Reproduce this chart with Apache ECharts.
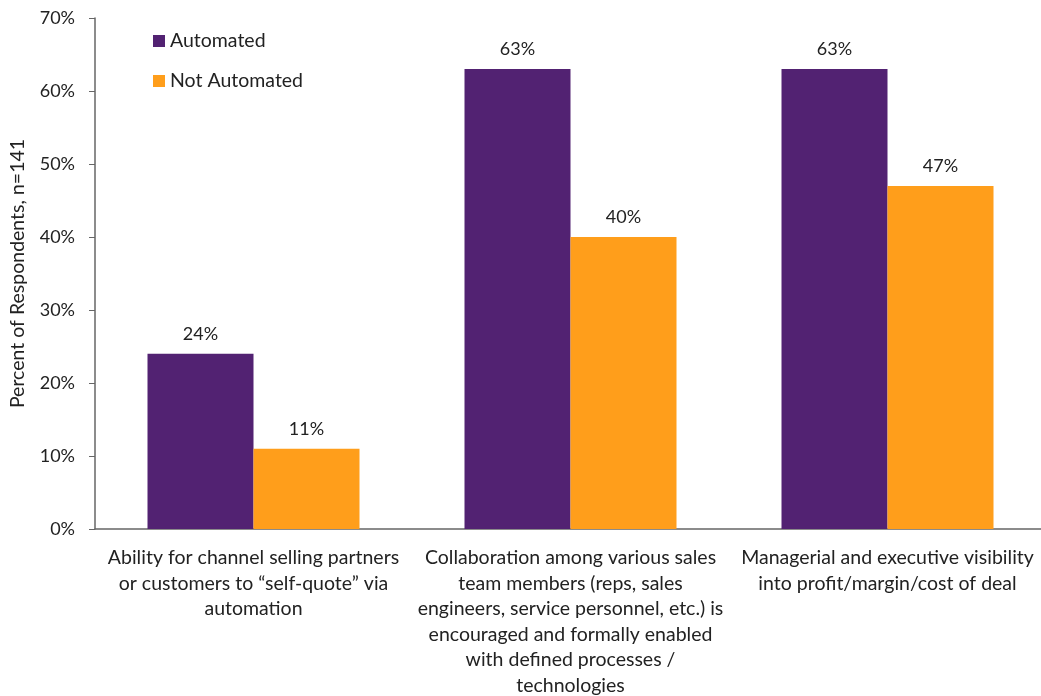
<!DOCTYPE html>
<html><head><meta charset="utf-8">
<script src="https://cdn.jsdelivr.net/npm/echarts@6/dist/echarts.min.js"></script>
<style>html,body{margin:0;padding:0;background:#fff}#c{width:1041px;height:696px}</style>
</head><body><div id="c"></div>
<script>
const categories = [
  "Ability for channel selling partners\nor customers to \u201cself-quote\u201d via\nautomation",
  "Collaboration among various sales\nteam members (reps, sales\nengineers, service personnel, etc.) is\nencouraged and formally enabled\nwith defined processes /\ntechnologies",
  "Managerial and executive visibility\ninto profit/margin/cost of deal"
];
const automated = [24, 63, 63];
const notAutomated = [11, 40, 47];
const yTicks = [0, 10, 20, 30, 40, 50, 60, 70];

const font = 'Lato, "Open Sans", sans-serif';
const chart = echarts.init(document.getElementById('c'));
chart.setOption({
  animation: false,
  textStyle: { fontFamily: font },
  legend: {
    orient: 'vertical', left: 148, top: 26, itemWidth: 12, itemHeight: 12, itemGap: 20,
    icon: 'rect',
    textStyle: { fontSize: 19.5, color: '#222', fontFamily: font },
    data: ['Automated', 'Not Automated']
  },
  grid: { left: 95, top: 18, width: 951, height: 511, containLabel: false, outerBoundsMode: 'none' },
  xAxis: {
    type: 'category', data: categories,
    axisLine: { lineStyle: { color: '#666', width: 1.5 } },
    axisTick: { show: false },
    axisLabel: { fontSize: 19.5, color: '#222', lineHeight: 25.5, margin: 16, interval: 0, fontFamily: font }
  },
  yAxis: {
    type: 'value', min: 0, max: 70, interval: 10,
    name: 'Percent of Respondents, n=141', nameLocation: 'middle', nameGap: 67,
    nameTextStyle: { fontSize: 19.5, color: '#222', fontFamily: font },
    splitLine: { show: false },
    axisLine: { show: true, lineStyle: { color: '#666', width: 1.5 } },
    axisTick: { show: true, length: 6, lineStyle: { color: '#666' } },
    axisLabel: { fontSize: 18, color: '#222', margin: 20, fontFamily: font,
      formatter: v => yTicks.includes(v) ? v + '%' : '' }
  },
  series: [
    { name: 'Automated', type: 'bar', data: automated, barWidth: 106, barGap: '0%',
      itemStyle: { color: '#522272' },
      label: { show: true, position: 'top', distance: 11, formatter: '{c}%', fontSize: 18, color: '#222', fontFamily: font } },
    { name: 'Not Automated', type: 'bar', data: notAutomated, barWidth: 106, barGap: '0%',
      itemStyle: { color: '#FF9E1B' },
      label: { show: true, position: 'top', distance: 11, formatter: '{c}%', fontSize: 18, color: '#222', fontFamily: font } }
  ]
});
</script></body></html>
